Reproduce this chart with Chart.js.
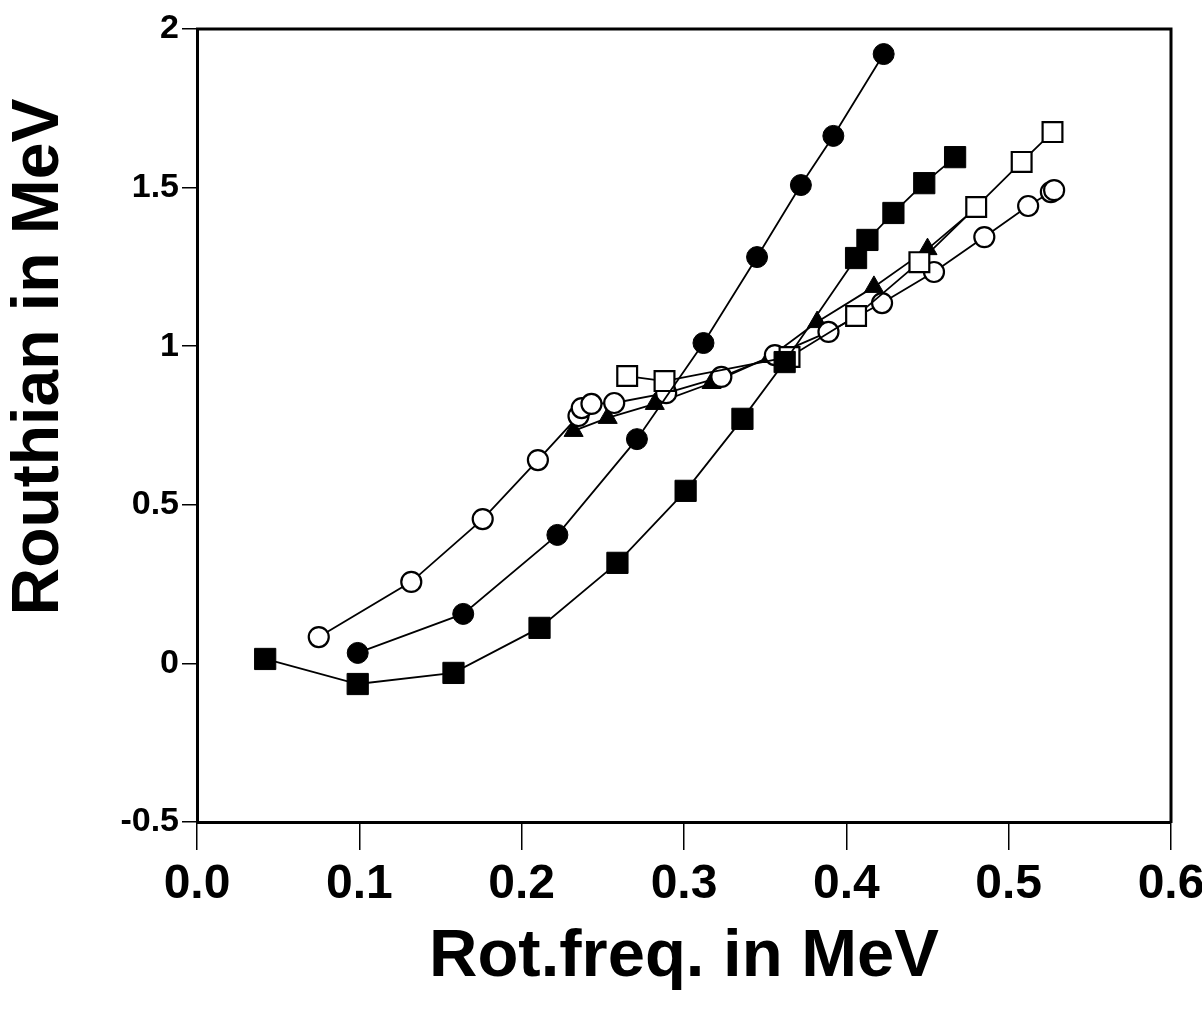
<!DOCTYPE html>
<html>
<head>
<meta charset="utf-8">
<title>Routhians</title>
<script src="https://cdn.jsdelivr.net/npm/chart.js@4.4.0/dist/chart.umd.min.js"></script>
<style>
    html, body { margin: 0; padding: 0; background: #fff; }
</style>
</head>
<body>
<canvas id="myChart" width="1202" height="1012"></canvas>
<script>
// AXIS TICKS
const xTicks = [0.0, 0.1, 0.2, 0.3, 0.4, 0.5, 0.6];
const yTicks = [-0.5, 0, 0.5, 1, 1.5, 2];

// SERIES VALUES (rot. freq. / routhian, both in MeV)
const filledSquareX = [0.042, 0.099, 0.158, 0.211, 0.259, 0.301, 0.336, 0.362, 0.406, 0.413, 0.429, 0.448, 0.467];
const filledSquareY = [0.014, -0.065, -0.030, 0.112, 0.317, 0.544, 0.771, 0.950, 1.278, 1.335, 1.420, 1.514, 1.596];

const filledCircleX = [0.099, 0.164, 0.222, 0.271, 0.312, 0.345, 0.372, 0.392, 0.423];
const filledCircleY = [0.033, 0.156, 0.405, 0.707, 1.010, 1.281, 1.508, 1.663, 1.921];

const openSquareX = [0.265, 0.288, 0.365, 0.406, 0.445, 0.480, 0.508, 0.527];
const openSquareY = [0.906, 0.890, 0.966, 1.095, 1.265, 1.439, 1.581, 1.675];

const openCircleX = [0.075, 0.132, 0.176, 0.210, 0.235, 0.237, 0.243, 0.257, 0.289, 0.323, 0.356, 0.389, 0.422, 0.454, 0.485, 0.512, 0.526, 0.528];
const openCircleY = [0.083, 0.257, 0.455, 0.641, 0.780, 0.805, 0.818, 0.821, 0.852, 0.903, 0.972, 1.045, 1.136, 1.234, 1.344, 1.442, 1.486, 1.492];

const triangleX = [0.232, 0.253, 0.282, 0.317, 0.353, 0.382, 0.417, 0.450, 0.480];
const triangleY = [0.733, 0.774, 0.818, 0.884, 0.966, 1.076, 1.187, 1.306, 1.436];

const fontFamily = "'Liberation Sans', Arial, Helvetica, sans-serif";
const yTitle = 'Routhian in MeV';

/**
 * zip two value arrays into {x, y} points
 * @param xs
 * @param ys
 * @returns {[]}
 */
function toPoints(xs, ys) {
    return xs.map(function (x, i) {
        return {x: x, y: ys[i]};
    });
}

/**
 * one black line series with markers
 */
function series(xs, ys, style, radius, filled, order) {
    return {
        data: toPoints(xs, ys),
        showLine: true,
        borderColor: '#000',
        borderWidth: 1.8,
        tension: 0,
        pointStyle: style,
        pointRadius: radius,
        pointBorderWidth: filled ? 1 : 2.2,
        pointBorderColor: '#000',
        pointBackgroundColor: filled ? '#000' : '#fff',
        order: order
    };
}

// top and right edges of the frame, plus the y title (sits above the axis middle)
const framePlugin = {
    id: 'frame',
    afterDraw(chart) {
        const ctx = chart.ctx;
        const a = chart.chartArea;
        ctx.save();
        ctx.strokeStyle = '#000';
        ctx.lineWidth = 3;
        ctx.beginPath();
        ctx.moveTo(a.left - 1, a.top);
        ctx.lineTo(a.right, a.top);
        ctx.lineTo(a.right, a.bottom + 1);
        ctx.stroke();

        ctx.translate(40, 357);
        ctx.rotate(-Math.PI / 2);
        ctx.fillStyle = '#000';
        ctx.font = 'bold 66px ' + fontFamily;
        ctx.textAlign = 'center';
        ctx.textBaseline = 'middle';
        ctx.fillText(yTitle, 0, 0);
        ctx.restore();
    }
};

let ctx = document.getElementById('myChart');
let chart = new Chart(ctx, {
    type: 'scatter',
    data: {
        datasets: [
            series(filledSquareX, filledSquareY, 'rect', 15, true, 0),
            series(filledCircleX, filledCircleY, 'circle', 10.5, true, 1),
            series(openSquareX, openSquareY, 'rect', 14, false, 2),
            series(openCircleX, openCircleY, 'circle', 10, false, 3),
            series(triangleX, triangleY, 'triangle', 11, true, 4)
        ]
    },
    plugins: [framePlugin],
    options: {
        responsive: false,
        animation: false,
        layout: {padding: {top: 29, right: 31, bottom: 0, left: 0}},
        plugins: {
            legend: {display: false},
            tooltip: {enabled: false}
        },
        scales: {
            x: {
                type: 'linear',
                min: 0,
                max: 0.6,
                afterBuildTicks: function (axis) {
                    axis.ticks = xTicks.map(v => ({value: v}));
                },
                afterFit: function (axis) {
                    axis.height = 190;
                    axis.paddingLeft = 0;
                    axis.paddingRight = 0;
                },
                ticks: {
                    autoSkip: false,
                    maxRotation: 0,
                    padding: 6,
                    color: '#000',
                    font: {family: fontFamily, size: 48, weight: 'bold'},
                    callback: v => v.toFixed(1)
                },
                grid: {drawOnChartArea: false, tickLength: 28, color: '#000', lineWidth: 1.5},
                border: {color: '#000', width: 3},
                title: {
                    display: true,
                    text: 'Rot.freq. in MeV',
                    color: '#000',
                    font: {family: fontFamily, size: 67, weight: 'bold'},
                    padding: {top: 0, bottom: 14}
                }
            },
            y: {
                type: 'linear',
                min: -0.5,
                max: 2,
                afterBuildTicks: function (axis) {
                    axis.ticks = yTicks.map(v => ({value: v}));
                },
                afterFit: function (axis) {
                    axis.width = 197;
                },
                ticks: {
                    padding: 3,
                    color: '#000',
                    font: {family: fontFamily, size: 34, weight: 'bold'},
                    callback: v => String(v)
                },
                grid: {drawOnChartArea: false, tickLength: 15, color: '#000', lineWidth: 1.5},
                border: {color: '#000', width: 3}
            }
        }
    }
});
</script>
</body>
</html>
